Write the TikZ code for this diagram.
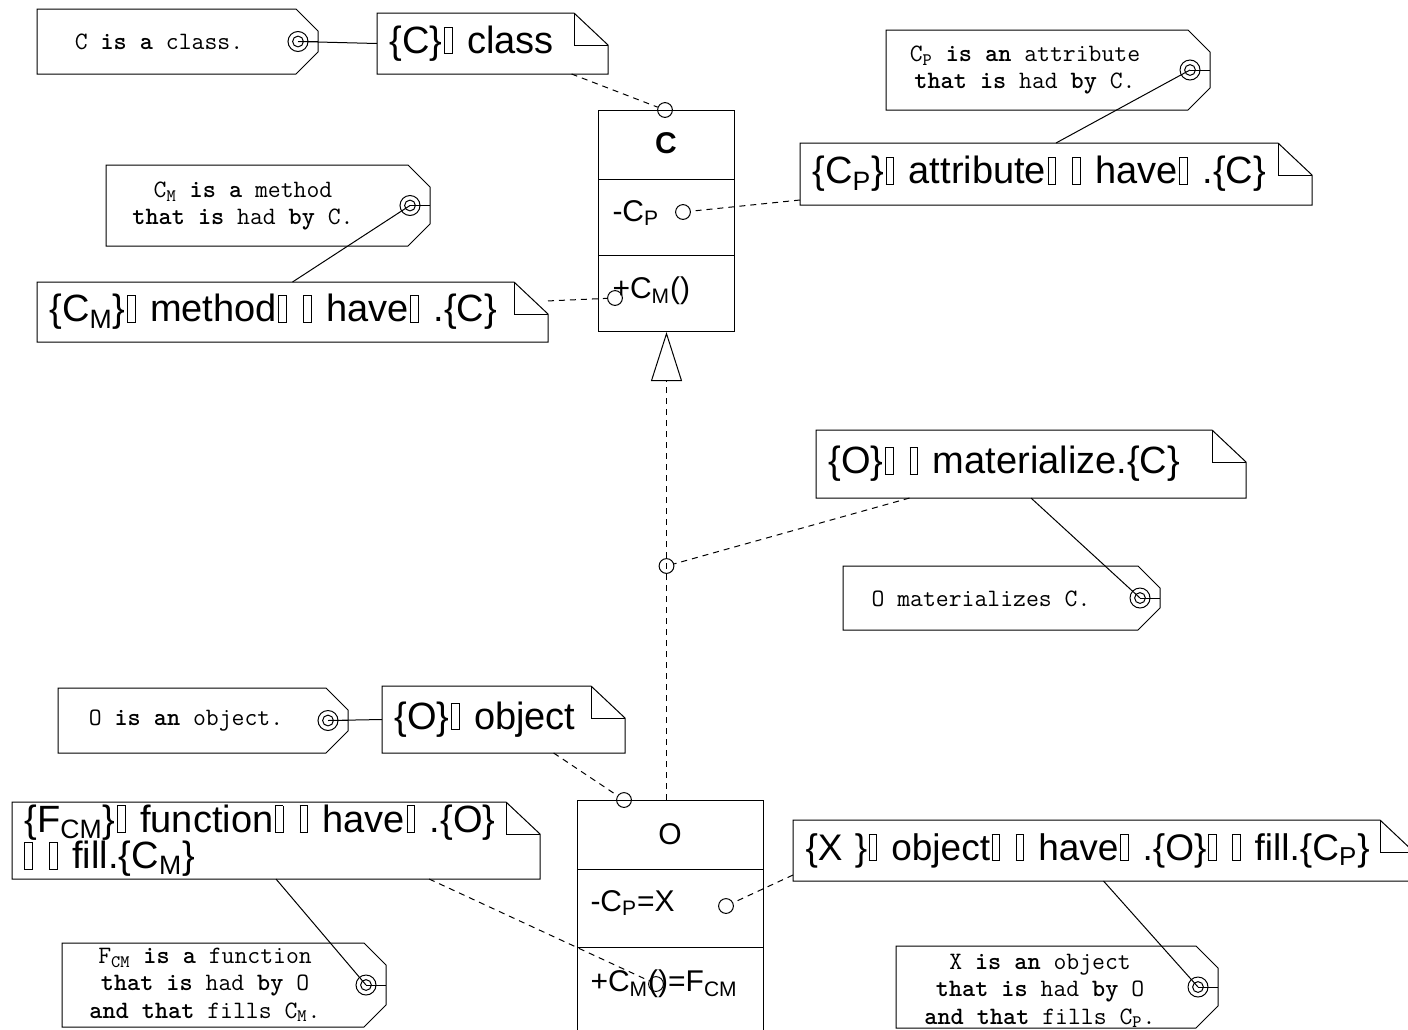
\documentclass[tikz,border=0pt]{standalone}
\usepackage{fontspec}
\setmainfont{Liberation Sans}
\usetikzlibrary{arrows.meta,calc}

% placeholder glyph box
\newcommand\tofu{\kern0.04em{\setlength\fboxsep{0pt}\setlength\fboxrule{0.45pt}\fbox{\rule{0pt}{0.68em}\hspace{0.18em}}}\kern0.05em}
\newcommand\notefont{\fontsize{19}{16}\selectfont\lineskiplimit=-100pt\relax}
\newcommand\funfont{\fontsize{19}{17.5}\selectfont\lineskiplimit=-100pt\relax}
\newcommand\xfont{\fontsize{18.5}{16}\selectfont}
\newcommand\tagfont{\ttfamily\fontsize{12.5}{13.6}\selectfont}
\newcommand\boxfont{\fontsize{15}{18}\selectfont}

% note with a folded corner, drawn around node #1
\newcommand\notefold[1]{%
  \draw[outline] (#1.north west) -- ([xshift=-17pt]#1.north east) -- ([yshift=-16pt]#1.north east)
    -- (#1.south east) -- (#1.south west) -- cycle;
  \draw[outline] ([xshift=-17pt]#1.north east) |- ([yshift=-16pt]#1.north east);}

% tag: name, x1, y1, x2, y2, text x, text y, text
\newcommand\pricetag[8]{%
  \draw[outline] (#2,#3) -- ({#4-22},#3) -- (#4,{#3+22}) -- (#4,{#5-22}) -- ({#4-22},#5) -- (#2,#5) -- cycle;
  \node[ring] (#1-ring) at ({#4-20},{(#3+#5)/2}) {};
  \draw (#1-ring.center) circle[radius=2.7pt];
  \draw (#1-ring.center) -- (#4,{(#3+#5)/2});
  \node[tagtext] (#1) at (#6,#7) {#8};}

\begin{document}
\begin{tikzpicture}[x=0.5pt,y=-0.5pt,line width=0.5pt,
  outline/.style={draw=black,line width=0.5pt},
  notebox/.style={anchor=north west,inner xsep=6pt,inner ysep=0pt,align=left,font=\notefont},
  tagtext/.style={align=center,inner sep=0pt,font=\tagfont},
  port/.style={circle,draw,inner sep=0pt,minimum size=7.4pt},
  ring/.style={circle,draw,inner sep=0pt,minimum size=10pt},
  link/.style={draw,line width=0.5pt},
  dlink/.style={draw,line width=0.5pt,dash pattern=on 3pt off 2.5pt},
  member/.style={anchor=west,inner sep=0pt,font=\boxfont},
  classbox/.style={draw,anchor=north west,inner sep=0pt}]

\useasboundingbox (0,0) rectangle (1408,1029);
\clip (0,0) rectangle (1408,1029);

% ---- class C ----
\node[classbox,minimum width=68pt,minimum height=110.5pt] (C) at (598,110) {};
\draw (598,179) -- (734,179);
\draw (598,255) -- (734,255);
\node[font=\boxfont\bfseries] (cName) at (666,143) {C};
\node[member] (cAttr) at (612,213) {-C\textsubscript{P}};
\node[member] (cOp) at (612,291) {+C\textsubscript{M}()};
\node[port] (pCtop) at (665,110) {};
\node[port] (pCattr) at (683,212) {};
\node[port] (pCop) at (615,298) {};

% ---- object O ----
\node[classbox,minimum width=93pt,minimum height=125pt] (O) at (577,800) {};
\draw (577,869) -- (763,869);
\draw (577,947) -- (763,947);
\node[font=\boxfont] (oName) at (670,834) {O};
\node[member] (oAttr) at (590,903) {-C\textsubscript{P}=X};
\node[member] (oOp) at (590,984) {+C\textsubscript{M}()=F\textsubscript{CM}};
\node[port] (pOtop) at (624,800) {};
\node[port] (pOattr) at (726,906) {};
\node[port] (pOop) at (656,984) {};

% ---- realization O -> C ----
\coordinate (genFoot) at (O.north -| C.south);
\draw[dlink,-{Triangle[open,length=24.5pt,width=15.5pt]}] (genFoot) -- (C.south);
\node[port] (pGen) at ($(C.south)!0.5!(genFoot)$) {};

% ---- notes ----
\node[notebox,text width=103pt,minimum height=30pt] (nClass) at (377,13) {\{C\}\tofu{} class};
\notefold{nClass}
\node[notebox,text width=243.5pt,minimum height=30.5pt] (nAttr) at (800,143)
  {\{C\textsubscript{P}\}\tofu{} attribute\tofu{} \tofu{} have\tofu{} .\{C\}};
\notefold{nAttr}
\node[notebox,text width=243pt,minimum height=29.5pt] (nMeth) at (37,282)
  {\{C\textsubscript{M}\}\tofu{} method\tofu{} \tofu{} have\tofu{} .\{C\}};
\notefold{nMeth}
\node[notebox,text width=202.5pt,minimum height=33.5pt] (nMat) at (816,430)
  {\{O\}\tofu{} \tofu{} materialize.\{C\}};
\notefold{nMat}
\node[notebox,text width=109pt,minimum height=33pt] (nObj) at (382,686) {\{O\}\tofu{} object};
\notefold{nObj}
\node[notebox,text width=251.5pt,minimum height=38pt,font=\funfont] (nFun) at (12,802)
  {\{F\textsubscript{CM}\}\tofu{} function\tofu{} \tofu{} have\tofu{} .\{O\}\\\tofu{} \tofu{} fill.\{C\textsubscript{M}\}};
\notefold{nFun}
\node[notebox,text width=298pt,minimum height=30pt,font=\xfont] (nX) at (793,820)
  {\{X \}\tofu{} object\tofu{} \tofu{} have\tofu{} .\{O\}\tofu{} \tofu{} fill.\{C\textsubscript{P}\}};
\notefold{nX}

% ---- tags ----
\pricetag{tClass}{37}{9}{318}{74}{159}{42}{C \textbf{is a} class.}
\pricetag{tAttr}{886}{30}{1210}{110}{1025}{70}{C\textsubscript{P} \textbf{is an} attribute\\\textbf{that is} had \textbf{by} C.}
\pricetag{tMeth}{106}{165}{430}{246}{243}{206}{C\textsubscript{M} \textbf{is a} method\\\textbf{that is} had \textbf{by} C.}
\pricetag{tMat}{843}{566}{1160}{630}{981}{599}{O materializes C.}
\pricetag{tObj}{58}{688}{348}{753}{186}{721}{O \textbf{is an} object.}
\pricetag{tFun}{62}{943}{386}{1027}{205}{985}{F\textsubscript{CM} \textbf{is a} function\\\textbf{that is} had \textbf{by} O\\\textbf{and that} fills C\textsubscript{M}.}
\pricetag{tX}{896}{946}{1218}{1028}{1040}{991}{X \textbf{is an} object\\\textbf{that is} had \textbf{by} O\\\textbf{and that} fills C\textsubscript{P}.}

% ---- tag links ----
\draw[link] (tClass-ring.center) -- (nClass.west);
\draw[link] (tAttr-ring.center) -- (nAttr.north);
\draw[link] (tMeth-ring.center) -- (nMeth.north);
\draw[link] (nMat.south) -- (tMat-ring.center);
\draw[link] (tObj-ring.center) -- (nObj.west);
\draw[link] (nFun.south) -- (tFun-ring.center);
\draw[link] (nX.south) -- (tX-ring.center);

% ---- note anchors ----
\coordinate (nFunFoot) at ($(nFun.south west)!0.79!(nFun.south east)$);
\coordinate (nXFoot) at ($(nX.south west)+(0,3pt)$);
\draw[dlink] (nClass) -- (pCtop);
\draw[dlink] (nAttr) -- (pCattr);
\draw[dlink] (nMeth) -- (pCop);
\draw[dlink] (nMat) -- (pGen);
\draw[dlink] (nObj) -- (pOtop);
\draw[dlink] (nFunFoot) -- (pOop);
\draw[dlink] (nXFoot) -- (pOattr);
\end{tikzpicture}
\end{document}
